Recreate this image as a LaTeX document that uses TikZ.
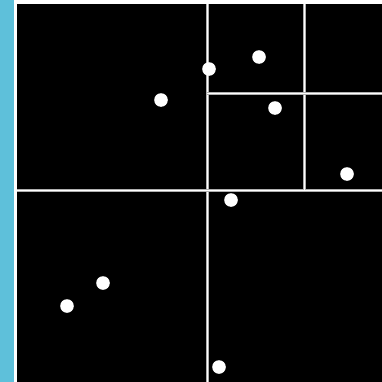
\documentclass[tikz,border=0pt]{standalone}
\usepackage{xcolor}
\usepackage{tikz}
\usetikzlibrary{positioning}
\definecolor{mycyan}{RGB}{94,192,218}
\definecolor{mygrey}{RGB}{175,175,175}
\tikzset{
  split/.style={draw=mygrey, double=white, double distance=0.75pt, line width=0.75pt},
  pt/.style={circle, fill=white, inner sep=0pt, minimum size=10.2pt}
}

\begin{document}
\begin{tikzpicture}[x=0.75pt, y=-0.75pt]
  \useasboundingbox (0,0) rectangle (382,382);
  % side strip and field
  \fill[mycyan] (0,0) rectangle (14,382);
  \fill[black] (17,4) rectangle (382,382);
  % first split
  \draw[split] (207,4) -- (207,382);
  \draw[split] (17,190) -- (382,190);
  % second split (upper right)
  \draw[split] (304,4) -- (304,190);
  \draw[split] (207,93) -- (382,93);
  % points
  \node[pt] (p1) at (209,69) {};
  \node[pt] (p2) at (259,57) {};
  \node[pt] (p3) at (161,100) {};
  \node[pt] (p4) at (275,108) {};
  \node[pt] (p5) at (347,174) {};
  \node[pt] (p6) at (231,200) {};
  \node[pt] (p7) at (103,283) {};
  \node[pt] (p8) at (67,306) {};
  \node[pt] (p9) at (219,367) {};
\end{tikzpicture}
\end{document}
